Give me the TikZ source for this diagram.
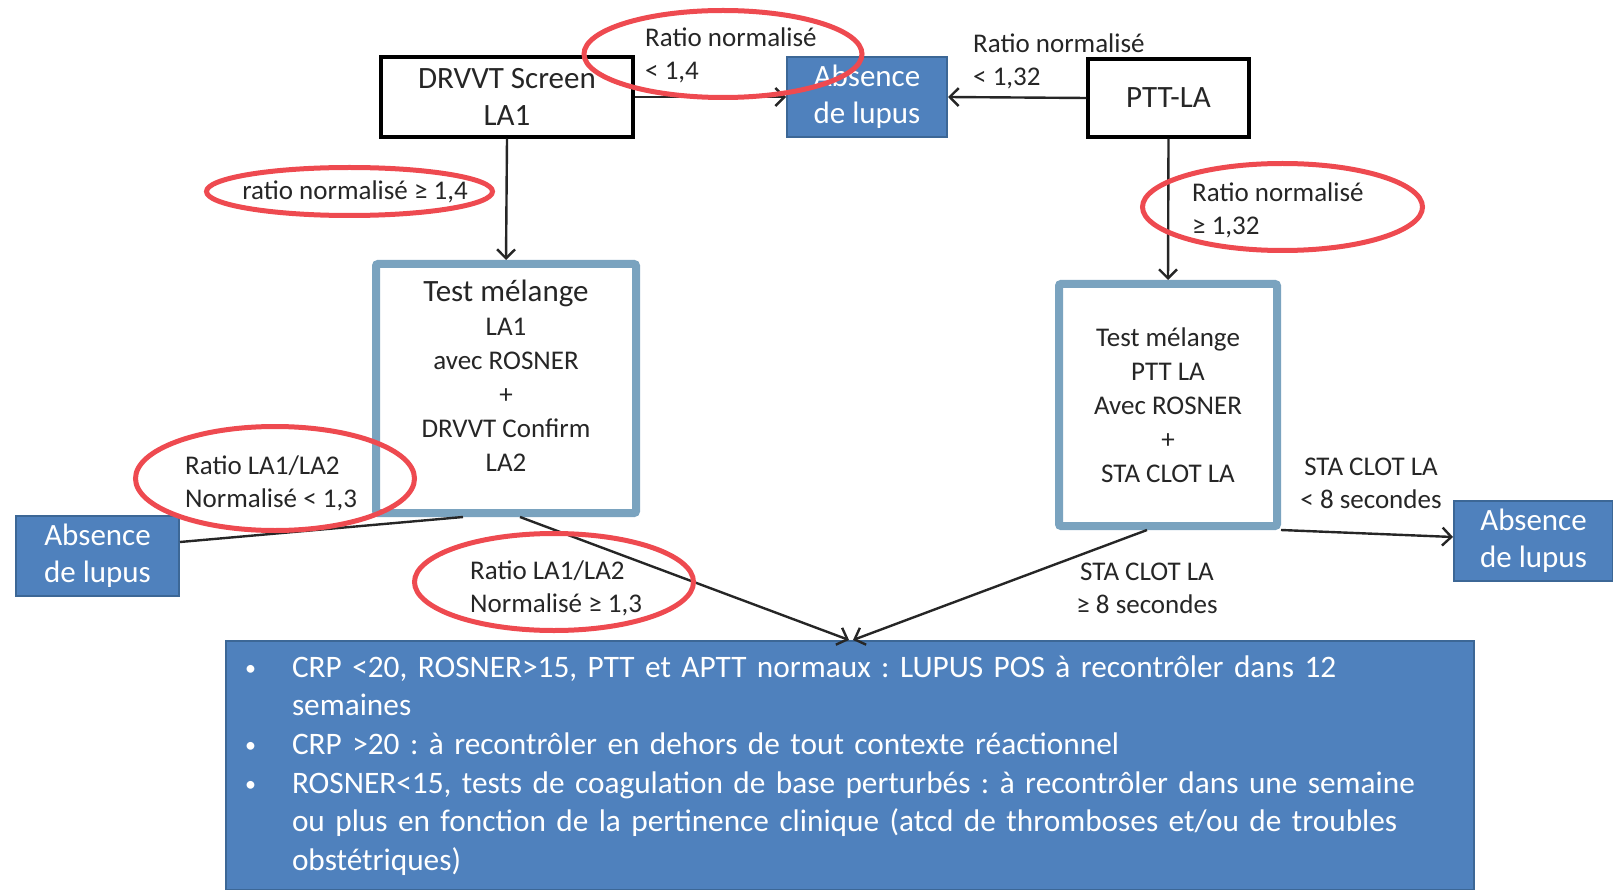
\documentclass[tikz,border=0pt]{standalone}
\usepackage{fontspec}
\setmainfont{Carlito}
\usetikzlibrary{arrows.meta}
\definecolor{boxblue}{HTML}{4F81BD}
\definecolor{boxedge}{HTML}{3C6796}
\definecolor{lightedge}{HTML}{7AA3BF}
\definecolor{ringred}{HTML}{EE4A50}
\definecolor{txt}{HTML}{262626}
\newcommand{\bul}{\makebox[47pt][l]{\raisebox{2pt}{\fontsize{22}{22}\selectfont •}}}
\begin{document}
\frenchspacing
\begin{tikzpicture}[x=1pt,y=-1pt,
 blackbox/.style={draw=black,line width=3.5pt,fill=white,inner sep=0pt,align=center,text=txt,font=\fontsize{31}{37}\selectfont},
 bluebox/.style={draw=boxedge,line width=2pt,fill=boxblue,inner sep=0pt,align=center,text=white,font=\fontsize{31}{37}\selectfont},
 testbox/.style={draw=lightedge,line width=8pt,fill=white,inner sep=0pt,align=center,text=txt,rounded corners=2pt},
 lbl/.style={inner sep=0pt,text=txt,font=\fontsize{27}{33}\selectfont},
 arr/.style={draw=black!85,line width=2.4pt,-{Straight Barb[length=9pt,width=18pt]}},
 plain/.style={draw=black!85,line width=2.4pt},
 ring/.style={draw=ringred,line width=5pt}]
\useasboundingbox (0,0) rectangle (1613,890);
% boxes
\node[blackbox,minimum width=252pt,minimum height=80pt] (drvvt) at (507,97) {DRVVT Screen\\LA1};
\node[bluebox,minimum width=160pt,minimum height=80pt] (absTop) at (867,97) {Absence\\de lupus};
\node[blackbox,minimum width=161pt,minimum height=78pt] (ptt) at (1168.5,98) {PTT-LA};
\node[testbox,minimum width=260pt,minimum height=249pt] (testL) at (506,388.5) {};
\node[lbl,align=center,font=\fontsize{27}{34}\selectfont] (testLtext) at (506,376)
  {{\fontsize{31}{34}\selectfont Test mélange}\\LA1\\avec ROSNER\\+\\DRVVT Confirm\\LA2};
\node[testbox,minimum width=218pt,minimum height=242pt,font=\fontsize{27}{34}\selectfont] (testR) at (1168,405)
  {Test mélange\\PTT LA\\Avec ROSNER\\+\\STA CLOT LA};
\node[bluebox,minimum width=163pt,minimum height=80pt] (absL) at (97.5,556) {Absence\\de lupus};
\node[bluebox,minimum width=159pt,minimum height=80pt] (absR) at (1533.5,541) {Absence\\de lupus};
\node[bluebox,minimum width=1248pt,minimum height=249pt,text width=1210pt,align=left,font=\fontsize{31.3}{38.6}\selectfont] (bottom) at (850,765.5)
  {\bul CRP <20, ROSNER>15, PTT et APTT normaux : LUPUS POS à recontrôler dans 12\\
   \hspace*{47pt}semaines\\
   \bul CRP >20 : à recontrôler en dehors de tout contexte réactionnel\\
   \bul ROSNER<15, tests de coagulation de base perturbés : à recontrôler dans une semaine\\
   \hspace*{47pt}ou plus en fonction de la pertinence clinique (atcd de thromboses et/ou de troubles\\
   \hspace*{47pt}obstétriques)};
% connectors
\draw[arr] (drvvt.east) -- (absTop.west);
\draw[arr] (ptt.west) -- (absTop.east);
\draw[arr] (drvvt.south) -- (testL.north);
\draw[arr] (ptt.south) -- (testR.north);
\draw[plain] ([xshift=-43pt]testL.south) -- ([yshift=14pt]absL.east);
\draw[arr] ([xshift=14pt]testL.south) -- ([xshift=-1pt]bottom.north);
\draw[arr] ([xshift=-21pt]testR.south) -- ([xshift=3pt]bottom.north);
\draw[arr] (testR.south east) -- ([yshift=4pt]absR.west);
% labels
\node[lbl,align=left,anchor=west] (l1) at (645,55) {Ratio normalisé\\< 1,4};
\node[lbl,align=left,anchor=west] (l2) at (973,61.5) {Ratio normalisé\\< 1,32};
\node[lbl] (l3) at (355,192) {ratio normalisé ≥ 1,4};
\node[lbl,align=left,anchor=west] (l4) at (1192,210.5) {Ratio normalisé\\≥ 1,32};
\node[lbl,align=left,anchor=west] (l5) at (185,483.5) {Ratio LA1/LA2\\Normalisé < 1,3};
\node[lbl,align=left,anchor=west] (l6) at (470,588.5) {Ratio LA1/LA2\\Normalisé ≥ 1,3};
\node[lbl,align=center] (l7) at (1371,483.5) {STA CLOT LA\\< 8 secondes};
\node[lbl,align=center] (l8) at (1147,588.5) {STA CLOT LA\\≥ 8 secondes};
% red rings
\draw[ring] (723,54) ellipse [x radius=139, y radius=43.5];
\draw[ring] (349.5,191.5) ellipse [x radius=143, y radius=24];
\draw[ring] (1282.5,207) ellipse [x radius=140, y radius=43.5];
\draw[ring] (275,478.5) ellipse [x radius=139.5, y radius=52];
\draw[ring] (554,582) ellipse [x radius=139.5, y radius=48.5];
\end{tikzpicture}
\end{document}
